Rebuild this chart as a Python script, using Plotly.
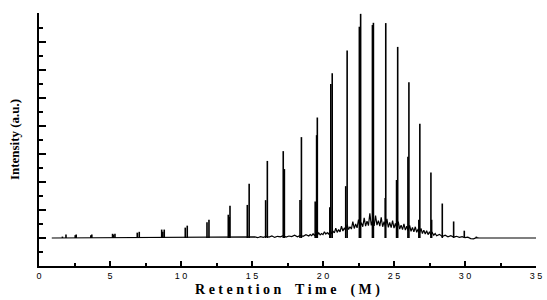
import plotly.graph_objects as go

# Peak spikes: retention time (min) and intensity (a.u.)
peak_time = [1.65, 1.9, 2.55, 2.62, 3.65, 3.72, 5.18, 5.25, 5.35, 6.92, 7.06,
             8.64, 8.72, 8.82, 10.3, 10.44, 11.83, 11.97, 13.33, 13.4, 13.45,
             14.67, 14.8, 15.96, 16.08, 17.2, 17.28, 18.38, 18.48,
             19.45, 19.55, 19.6, 20.48, 20.55, 20.65, 21.6, 21.7,
             22.56, 22.65, 23.48, 23.55, 24.38, 24.42, 25.18, 25.26,
             25.98, 26.05, 26.75, 26.82, 27.6, 27.65, 28.4, 29.2, 29.95, 30.8]
peak_height = [0.05, 0.12, 0.1, 0.12, 0.1, 0.12, 0.15, 0.12, 0.15, 0.19, 0.22,
               0.3, 0.22, 0.3, 0.37, 0.44, 0.56, 0.65, 0.83, 0.75, 1.15,
               1.18, 1.94, 1.35, 2.75, 3.1, 2.46, 1.36, 3.6,
               1.3, 3.67, 4.3, 1.1, 5.5, 5.88, 1.85, 6.69,
               7.54, 8.0, 7.6, 7.68, 1.43, 7.67, 2.07, 6.82,
               2.9, 5.56, 0.65, 4.08, 2.34, 0.65, 1.23, 0.59, 0.26, 0.05]

# Baseline trace with the unresolved hump (read approx.)
base_time = [0.9,
             15.0, 15.2, 15.4, 15.6, 15.8, 16.0, 16.2, 16.4, 16.6, 16.8,
             17.0, 17.2, 17.4, 17.6, 17.8, 18.0, 18.2, 18.4, 18.6, 18.8,
             19.0, 19.1, 19.2, 19.3, 19.4, 19.5, 19.6, 19.7, 19.8, 19.9,
             20.0, 20.1, 20.2, 20.3, 20.4, 20.5, 20.6, 20.7, 20.8, 20.9,
             21.0, 21.1, 21.2, 21.3, 21.4, 21.5, 21.6, 21.7, 21.8, 21.9,
             22.0, 22.1, 22.2, 22.3, 22.4, 22.5, 22.6, 22.7, 22.8, 22.9,
             23.0, 23.1, 23.2, 23.3, 23.4, 23.5, 23.6, 23.7, 23.8, 23.9,
             24.0, 24.1, 24.2, 24.3, 24.4, 24.5, 24.6, 24.7, 24.8, 24.9,
             25.0, 25.1, 25.2, 25.3, 25.4, 25.5, 25.6, 25.7, 25.8, 25.9,
             26.0, 26.1, 26.2, 26.3, 26.4, 26.5, 26.6, 26.7, 26.8, 26.9,
             27.0, 27.1, 27.2, 27.3, 27.4, 27.5, 27.6, 27.7, 27.8, 27.9,
             28.0,
             28.2, 28.4, 28.6, 28.8, 29.0, 29.2, 29.4, 29.6, 29.8, 30.0,
             30.2, 30.4, 30.6, 30.8, 31.0,
             35.0]
base_value = [0.0,
              0.02, 0.04, 0.01, 0.05, 0.02, 0.06, 0.03, 0.07, 0.02, 0.06,
              0.04, 0.08, 0.03, 0.07, 0.05, 0.10, 0.04, 0.09, 0.06, 0.12,
              0.07, 0.12, 0.08, 0.15, 0.09, 0.13, 0.10, 0.18, 0.11, 0.16,
              0.12, 0.22, 0.14, 0.19, 0.13, 0.28, 0.17, 0.24, 0.18, 0.35,
              0.20, 0.30, 0.22, 0.42, 0.25, 0.36, 0.27, 0.48, 0.30, 0.40,
              0.32, 0.58, 0.34, 0.50, 0.36, 0.66, 0.38, 0.55, 0.40, 0.72,
              0.42, 0.60, 0.44, 0.88, 0.45, 0.64, 0.43, 0.80, 0.46, 0.62,
              0.42, 0.74, 0.40, 0.58, 0.41, 0.68, 0.38, 0.56, 0.37, 0.62,
              0.35, 0.52, 0.33, 0.58, 0.32, 0.46, 0.30, 0.50, 0.28, 0.42,
              0.26, 0.45, 0.24, 0.38, 0.22, 0.40, 0.20, 0.32, 0.18, 0.34,
              0.16, 0.28, 0.14, 0.26, 0.12, 0.22, 0.11, 0.19, 0.10, 0.16,
              0.08,
              0.13, 0.05, 0.10, 0.04, 0.08, 0.03, 0.06, 0.02, 0.05, 0.01,
              0.03, -0.02, -0.03, 0.01, 0.0,
              0.0]

x_tickvals = [0, 5, 10, 15, 20, 25, 30, 35]
x_ticktext = ["0", "5", "1 0", "1 5", "2 0", "2 5", "3 0", "3 5"]

# Build vertical spikes from the peak arrays
sx, sy = [], []
for t, h in zip(peak_time, peak_height):
    sx += [t, t, None]
    sy += [0, h, None]

fig = go.Figure()
fig.add_trace(go.Scatter(x=base_time, y=base_value, mode="lines",
                         line=dict(color="black", width=1.2), hoverinfo="skip"))
fig.add_trace(go.Scatter(x=sx, y=sy, mode="lines",
                         line=dict(color="black", width=1.6), hoverinfo="skip"))

fig.update_layout(
    width=547, height=300,
    margin=dict(l=39, r=11, t=13, b=34),
    paper_bgcolor="white", plot_bgcolor="white",
    showlegend=False,
    xaxis=dict(
        range=[0, 35], tickvals=x_tickvals, ticktext=x_ticktext,
        automargin=False,
        ticks="inside", ticklen=5, tickwidth=2, tickcolor="black",
        showline=True, linecolor="black", linewidth=2, showgrid=False, zeroline=False,
        tickfont=dict(family="Liberation Sans, Arial", size=9, color="black"),
        minor=dict(dtick=2.5, tick0=0, ticks="inside", ticklen=3, tickwidth=2, tickcolor="black", showgrid=False),
        title=dict(text="<b>R e t e n t i o n  &nbsp; T i m e  &nbsp; ( M )</b>",
                   font=dict(family="Liberation Serif, Times New Roman", size=14, color="black"),
                   standoff=4),
    ),
    yaxis=dict(
        range=[-1, 8.03], dtick=1, tick0=0,
        automargin=False,
        ticks="inside", ticklen=7, tickwidth=2, tickcolor="black",
        showline=True, linecolor="black", linewidth=2, showgrid=False, zeroline=False,
        showticklabels=False,
        minor=dict(dtick=0.5, tick0=0, ticks="inside", ticklen=4, tickwidth=2, tickcolor="black", showgrid=False),
        title=dict(text="<b>Intensity (a.u.)</b>",
                   font=dict(family="Liberation Serif, Times New Roman", size=13, color="black"),
                   standoff=14),
    ),
)
fig.write_html("out.html", config={"displayModeBar": False},
               post_script="document.body.style.margin='0';document.body.style.overflow='hidden';")
